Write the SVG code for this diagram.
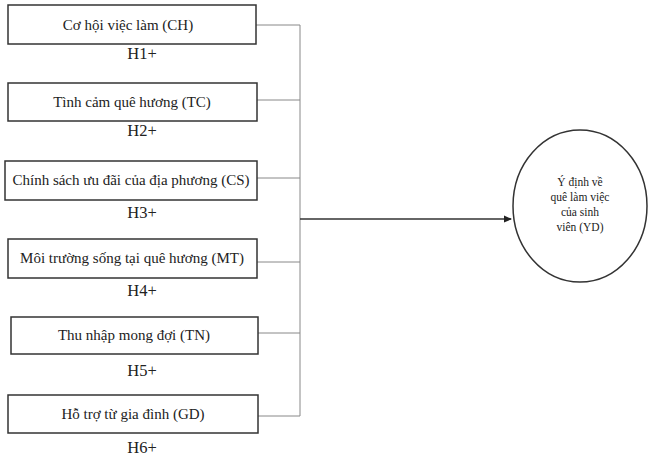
<svg xmlns="http://www.w3.org/2000/svg" width="648" height="459" viewBox="0 0 648 459">
<style>
.box{fill:#fff;stroke:#333;stroke-width:1.5}
.t{font-family:"Liberation Serif",serif;font-size:15px;fill:#222;text-anchor:middle}
.h{font-family:"Liberation Serif",serif;font-size:16.5px;fill:#222;text-anchor:middle}
.y{font-family:"Liberation Serif",serif;font-size:11.5px;fill:#222;text-anchor:middle}
.c{fill:none;stroke:#888;stroke-width:1}
.m{fill:none;stroke:#333;stroke-width:1.5}
</style>
<defs>
<marker id="ar" markerWidth="8" markerHeight="8" refX="7" refY="4" orient="auto" markerUnits="userSpaceOnUse">
<path d="M0,0.5 L8,4 L0,7.5 Z" fill="#222"/>
</marker>
</defs>
<rect width="648" height="459" fill="#fff"/>
<g id="connectors">
<path class="c" d="M256,25 H300 M257,100 H300 M257,178 H300 M257,262 H300 M258,333 H300 M258,416 H300 M300,25 V416"/>
<path class="m" d="M300,219 H511" marker-end="url(#ar)"/>
</g>
<g id="ch"><rect class="box" x="8" y="5" width="248" height="39"/><text class="t" x="128" y="30">Cơ hội việc làm (CH)</text><text class="h" x="142" y="59">H1+</text></g>
<g id="tc"><rect class="box" x="8" y="83" width="249" height="38"/><text class="t" x="132" y="107">Tình cảm quê hương (TC)</text><text class="h" x="142" y="136">H2+</text></g>
<g id="cs"><rect class="box" x="5" y="161" width="252" height="39"/><text class="t" x="131" y="185">Chính sách ưu đãi của địa phương (CS)</text><text class="h" x="142" y="218">H3+</text></g>
<g id="mt"><rect class="box" x="8" y="239" width="249" height="39"/><text class="t" x="132" y="263">Môi trường sống tại quê hương (MT)</text><text class="h" x="142" y="296">H4+</text></g>
<g id="tn"><rect class="box" x="11" y="317" width="247" height="37"/><text class="t" x="134" y="340">Thu nhập mong đợi (TN)</text><text class="h" x="142" y="376">H5+</text></g>
<g id="gd"><rect class="box" x="8" y="395" width="250" height="38"/><text class="t" x="133" y="419">Hỗ trợ từ gia đình (GD)</text><text class="h" x="142" y="453">H6+</text></g>
<g id="yd"><ellipse cx="580" cy="206" rx="67" ry="76" fill="#fff" stroke="#333" stroke-width="1.5"/>
<text class="y" x="580" y="186">Ý định về</text>
<text class="y" x="580" y="201">quê làm việc</text>
<text class="y" x="580" y="216">của sinh</text>
<text class="y" x="580" y="231">viên (YD)</text>
</g>
</svg>
